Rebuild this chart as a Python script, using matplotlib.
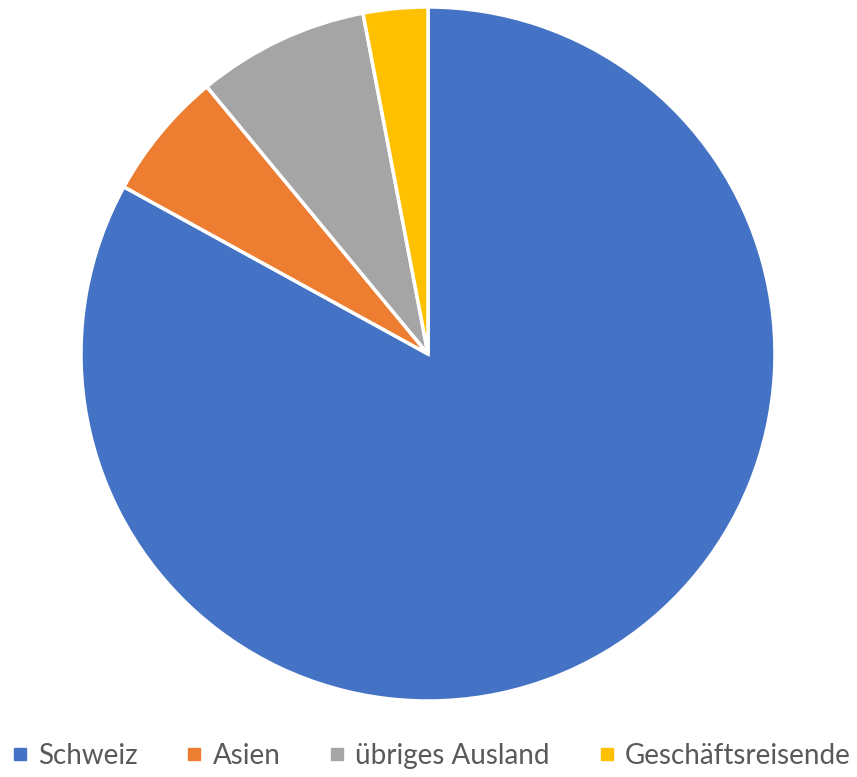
import matplotlib
matplotlib.use("Agg")
import matplotlib.pyplot as plt
from matplotlib.lines import Line2D

labels = ["Schweiz", "Asien", "übriges Ausland", "Geschäftsreisende"]
values = [83, 6, 8, 3]
colors = ["#4472C4", "#ED7D31", "#A5A5A5", "#FFC000"]

plt.rcParams["font.family"] = ["Lato", "DejaVu Sans"]

fig = plt.figure(figsize=(8.57, 7.77), dpi=100)
ax = fig.add_axes([0.0945, 0.0978, 0.8098, 0.8932])
ax.pie(values, colors=colors, startangle=90, counterclock=False,
       wedgeprops=dict(edgecolor="white", linewidth=2.5))
ax.set_xlim(-1, 1)
ax.set_ylim(-1, 1)
ax.set_aspect("equal")

handles = [Line2D([], [], marker="s", linestyle="none", markersize=9,
                  markerfacecolor=c, markeredgecolor=c) for c in colors]
fig.legend(handles, labels, loc="center", bbox_to_anchor=(0.503, 0.027), ncol=4,
           frameon=False, fontsize=20, handlelength=0.6, handletextpad=0.35,
           columnspacing=1.75, labelcolor="#595959")

fig.savefig("out.png", dpi=100)
